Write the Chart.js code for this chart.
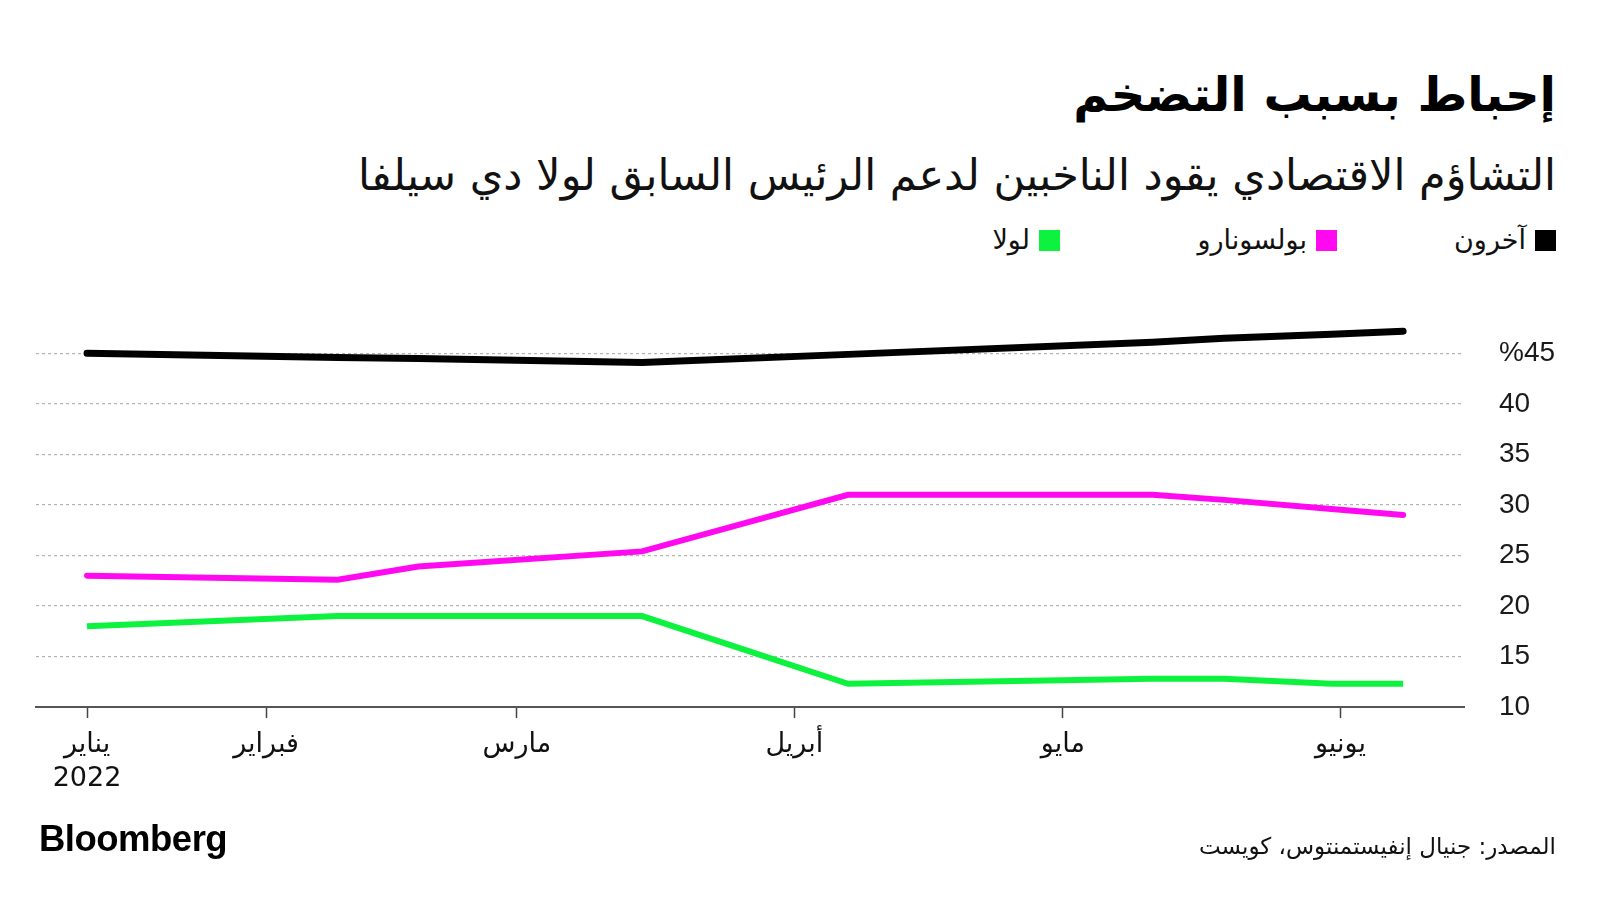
<!DOCTYPE html>
<html lang="ar">
<head>
<meta charset="utf-8">
<script src="https://cdn.jsdelivr.net/npm/chart.js@4.4.1/dist/chart.umd.min.js"></script>
<style>
html,body{margin:0;padding:0;background:#fff;}
body{width:1600px;height:900px;position:relative;overflow:hidden;font-family:"Liberation Sans","DejaVu Sans",sans-serif;}
.t{position:absolute;white-space:nowrap;}
#title{right:44px;top:68px;font-family:"DejaVu Sans";font-weight:bold;font-size:48px;line-height:1.1;color:#000;}
#subtitle{right:44px;top:150px;font-family:"DejaVu Sans";font-size:43px;line-height:1.2;color:#111;}
.leg{position:absolute;top:228px;display:flex;flex-direction:row-reverse;align-items:center;font-family:"DejaVu Sans";font-size:27px;line-height:24px;color:#111;}
.sw{width:21px;height:21px;margin-left:9px;}
#chartbox{position:absolute;left:0;top:300px;width:1600px;height:600px;}
#logo{left:39px;top:818px;font-family:"Liberation Sans";font-weight:bold;font-size:36.5px;color:#000;letter-spacing:-0.5px;}
#source{right:44px;top:833px;font-family:"DejaVu Sans";font-size:23px;color:#111;}
</style>
</head>
<body>
<div class="t" id="title" dir="rtl">إحباط بسبب التضخم</div>
<div class="t" id="subtitle" dir="rtl">التشاؤم الاقتصادي يقود الناخبين لدعم الرئيس السابق لولا دي سيلفا</div>
<div id="legend"></div>
<div id="chartbox"><canvas id="c" width="1600" height="600"></canvas></div>
<div class="t" id="logo">Bloomberg</div>
<div class="t" id="source" dir="rtl">المصدر: جنيال إنفيستمنتوس، كويست</div>
<script>
// Survey dates as day-of-year 2022
const surveyDays = [12, 40, 49, 74, 97, 131, 139, 151, 159];
const othersValues = [45.0, 44.6, 44.5, 44.1, 44.9, 46.1, 46.5, 46.9, 47.2];
const bolsonaroValues = [23.0, 22.6, 23.9, 25.4, 31.0, 31.0, 30.5, 29.6, 29.0];
const lulaValues = [18.0, 19.0, 19.0, 19.0, 12.3, 12.8, 12.8, 12.3, 12.3];
const seriesNames = ['آخرون', 'بولسونارو', 'لولا'];
const seriesColors = ['#000000', '#ff0af0', '#0df23f'];
const legendRight = [44, 263, 540];
const xTickDays = [12, 32, 60, 91, 121, 152];
const xTickLabels = [['يناير', '2022'], 'فبراير', 'مارس', 'أبريل', 'مايو', 'يونيو'];
const yTickValues = [10, 15, 20, 25, 30, 35, 40, 45];
const yTickLabels = ['10', '15', '20', '25', '30', '35', '40', '%45'];

// legend (HTML)
const leg = document.getElementById('legend');
seriesNames.forEach((n, i) => {
  const d = document.createElement('div');
  d.className = 'leg';
  d.style.right = legendRight[i] + 'px';
  const sw = document.createElement('div');
  sw.className = 'sw';
  sw.style.background = seriesColors[i];
  const tx = document.createElement('span');
  tx.dir = 'rtl';
  tx.textContent = n;
  d.appendChild(sw); d.appendChild(tx);
  leg.appendChild(d);
});

const allValues = [othersValues, bolsonaroValues, lulaValues];
const caps = ['round', 'round', 'butt'];
const datasets = allValues.map((vals, i) => ({
  label: seriesNames[i],
  data: surveyDays.map((d, j) => ({x: d, y: vals[j]})),
  borderColor: seriesColors[i],
  backgroundColor: seriesColors[i],
  borderWidth: i === 0 ? 7 : 6,
  borderCapStyle: caps[i],
  borderJoinStyle: 'miter',
  pointRadius: 0,
  tension: 0,
  fill: false
}));

new Chart(document.getElementById('c'), {
  type: 'line',
  data: {datasets},
  options: {
    responsive: false,
    animation: false,
    devicePixelRatio: 1,
    layout: {padding: {left: 36, top: 18, right: 0, bottom: 0}},
    plugins: {legend: {display: false}, tooltip: {enabled: false}},
    scales: {
      x: {
        type: 'linear', position: 'bottom', min: 6.3, max: 165.8,
        afterBuildTicks: s => { s.ticks = xTickDays.map(v => ({value: v})); },
        afterFit: s => { s.height = 193; },
        ticks: {
          callback: (v, i) => xTickLabels[i],
          autoSkip: false, maxRotation: 0, minRotation: 0, padding: 10,
          color: '#111', font: {family: 'DejaVu Sans', size: 27, lineHeight: 1.27}
        },
        grid: {drawOnChartArea: false, drawTicks: true, tickLength: 11, color: '#444', tickColor: '#444', tickWidth: 1.5},
        border: {display: true, color: '#555', width: 2}
      },
      y: {
        type: 'linear', position: 'right', min: 10, max: 48.5,
        afterBuildTicks: s => { s.ticks = yTickValues.map(v => ({value: v})); },
        afterFit: s => { s.width = 136; },
        ticks: {
          callback: (v, i) => yTickLabels[i],
          padding: 0, color: '#1a1a1a', font: {family: 'Liberation Sans', size: 28, lineHeight: 1}
        },
        grid: {
          drawTicks: true,
          tickLength: 35,
          tickColor: 'rgba(0,0,0,0)',
          color: c => (c.tick && c.tick.value === 10) ? 'rgba(0,0,0,0)' : '#b3b3b3',
          lineWidth: 1.2,
          borderDash: [3, 3]
        },
        border: {display: false, dash: [3, 3]}
      }
    }
  }
});
</script>
</body>
</html>
